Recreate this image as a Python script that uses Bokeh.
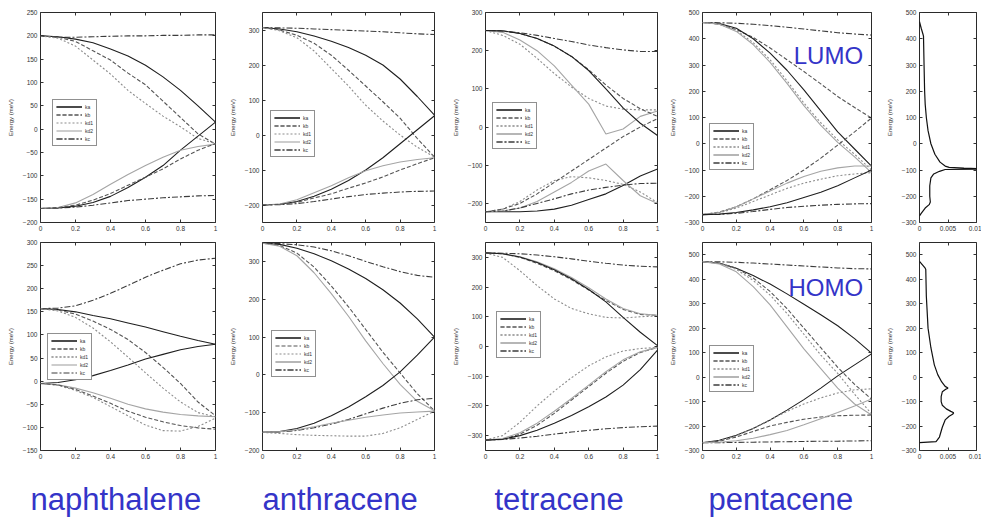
from bokeh.plotting import figure
from bokeh.models import (Range1d, FixedTicker, LinearAxis, Legend, LegendItem, Label,
                          CustomLabelingPolicy)
from bokeh.layouts import column, row
from bokeh.embed import file_html
from bokeh.resources import INLINE

# ---------------- data ----------------
k_path = [0.0, 0.1, 0.2, 0.3, 0.4, 0.5, 0.6, 0.7, 0.8, 0.9, 1.0]
k_tick_vals = [0, 0.2, 0.4, 0.6, 0.8, 1]
k_tick_labels = ["0", "0.2", "0.4", "0.6", "0.8", "1"]
dos_tick_vals = [0, 0.005, 0.01]
dos_tick_labels = ["0", "0.005", "0.01"]
legend_keys = ["a", "b", "d1", "d2", "c"]
legend_labels = ["ka", "kb", "kd1", "kd2", "kc"]
molecules = ["naphthalene", "anthracene", "tetracene", "pentacene"]

naphthalene_lumo = [
    ("c", [200, 197, 197, 198, 199, 200, 200, 201, 201, 202, 202]),
    ("a", [200, 198, 193, 185, 172, 157, 137, 112, 83, 50, 15]),
    ("b", [200, 197, 188, 168, 148, 120, 95, 60, 25, -10, -32]),
    ("d1", [200, 195, 178, 148, 118, 83, 55, 28, 5, -20, -31]),
    ("c", [-170, -169, -167, -163, -158, -153, -150, -147, -145, -143, -142]),
    ("a", [-170, -169, -165, -157, -144, -125, -103, -78, -45, -15, 15]),
    ("d2", [-170, -168, -158, -140, -118, -97, -78, -60, -45, -37, -32]),
    ("b", [-170, -168, -163, -152, -138, -120, -103, -85, -64, -45, -31]),
]
anthracene_lumo = [
    ("c", [307, 306, 305, 303, 301, 299, 297, 295, 292, 289, 287]),
    ("a", [307, 303, 295, 283, 268, 250, 228, 200, 160, 110, 57]),
    ("b", [307, 300, 285, 262, 228, 185, 140, 95, 48, -10, -63]),
    ("d1", [307, 298, 278, 240, 190, 140, 85, 40, 0, -35, -63]),
    ("c", [-200, -199, -196, -190, -183, -176, -170, -166, -163, -161, -160]),
    ("a", [-200, -198, -190, -175, -155, -130, -100, -65, -25, 15, 55]),
    ("d2", [-200, -197, -185, -165, -145, -122, -102, -88, -77, -70, -65]),
    ("b", [-200, -198, -192, -180, -168, -152, -137, -120, -100, -82, -65]),
]
tetracene_lumo = [
    ("c", [253, 251, 247, 240, 232, 224, 215, 208, 202, 198, 198]),
    ("d1", [253, 240, 217, 180, 140, 105, 75, 55, 47, 45, 45]),
    ("d2", [253, 248, 228, 200, 160, 110, 60, -18, -5, 28, 42]),
    ("b", [253, 252, 245, 232, 212, 185, 150, 110, 75, 48, 28]),
    ("a", [253, 252, 245, 232, 212, 185, 148, 100, 50, 10, -22]),
    ("a", [-222, -222, -222, -220, -215, -205, -190, -175, -153, -128, -110]),
    ("d1", [-222, -215, -195, -165, -140, -130, -133, -140, -150, -170, -198]),
    ("d2", [-222, -220, -212, -195, -170, -145, -115, -97, -140, -180, -200]),
    ("c", [-222, -220, -212, -200, -188, -175, -165, -158, -152, -148, -147]),
    ("b", [-222, -215, -200, -175, -145, -115, -85, -55, -25, 0, 22]),
]
pentacene_lumo = [
    ("c", [462, 461, 459, 455, 450, 444, 437, 430, 423, 418, 414]),
    ("b", [462, 455, 435, 405, 365, 320, 275, 228, 180, 138, 98]),
    ("a", [462, 458, 440, 400, 345, 280, 205, 125, 45, -20, -85]),
    ("d1", [462, 456, 432, 385, 320, 240, 155, 80, 15, -40, -100]),
    ("d2", [462, 455, 428, 378, 310, 230, 145, 70, 5, -50, -110]),
    ("c", [-270, -269, -265, -258, -250, -243, -238, -234, -231, -229, -228]),
    ("b", [-270, -260, -240, -210, -175, -140, -100, -55, -5, 45, 98]),
    ("d2", [-270, -262, -240, -210, -180, -150, -125, -105, -92, -85, -85]),
    ("d1", [-270, -263, -245, -220, -195, -170, -150, -135, -122, -115, -110]),
    ("a", [-270, -268, -262, -252, -240, -225, -205, -185, -160, -130, -100]),
]
naphthalene_homo = [
    ("c", [157, 158, 163, 175, 190, 207, 225, 240, 254, 262, 266]),
    ("a", [157, 155, 150, 142, 135, 126, 117, 107, 97, 88, 80]),
    ("b", [157, 154, 145, 130, 112, 90, 62, 30, -5, -45, -75]),
    ("d1", [157, 152, 138, 115, 85, 52, 18, -15, -45, -68, -77]),
    ("a", [-5, -3, 3, 12, 23, 35, 48, 58, 68, 75, 80]),
    ("d2", [-5, -8, -15, -25, -37, -50, -60, -67, -72, -75, -77]),
    ("d1", [-5, -9, -20, -35, -55, -75, -95, -107, -108, -98, -80]),
    ("b", [-5, -8, -18, -32, -48, -65, -78, -88, -96, -101, -104]),
]
anthracene_homo = [
    ("c", [348, 347, 344, 338, 328, 315, 300, 286, 273, 263, 258]),
    ("a", [348, 345, 335, 320, 302, 280, 255, 225, 190, 148, 100]),
    ("b", [348, 342, 322, 285, 235, 180, 120, 60, 5, -50, -95]),
    ("d2", [348, 340, 315, 270, 215, 155, 90, 30, -25, -70, -95]),
    ("a", [-152, -150, -142, -128, -108, -85, -58, -28, 8, 52, 100]),
    ("c", [-152, -151, -147, -140, -130, -118, -103, -88, -75, -66, -62]),
    ("d2", [-152, -150, -145, -137, -128, -120, -112, -106, -101, -98, -96]),
    ("d1", [-152, -155, -158, -160, -161, -162, -162, -155, -140, -118, -96]),
]
tetracene_homo = [
    ("c", [315, 314, 312, 308, 302, 295, 287, 280, 274, 270, 268]),
    ("d1", [315, 300, 255, 205, 160, 128, 110, 98, 96, 100, 103]),
    ("b", [315, 312, 300, 280, 255, 225, 190, 155, 125, 108, 105]),
    ("d2", [315, 312, 302, 285, 262, 232, 198, 160, 128, 110, 105]),
    ("a", [315, 312, 301, 283, 258, 228, 192, 150, 98, 48, 3]),
    ("c", [-315, -313, -308, -302, -295, -288, -282, -277, -273, -270, -268]),
    ("d1", [-315, -300, -255, -200, -150, -105, -65, -35, -15, -7, -3]),
    ("b", [-315, -312, -295, -265, -225, -180, -135, -90, -50, -20, -3]),
    ("d2", [-315, -310, -290, -258, -218, -175, -130, -85, -45, -18, -3]),
    ("a", [-315, -312, -300, -282, -258, -232, -203, -170, -130, -78, -12]),
]
pentacene_homo = [
    ("c", [472, 471, 469, 466, 462, 458, 454, 450, 446, 443, 442]),
    ("a", [472, 465, 445, 415, 380, 340, 298, 255, 210, 157, 98]),
    ("b", [472, 466, 445, 405, 350, 280, 200, 120, 40, -30, -90]),
    ("d1", [472, 465, 440, 395, 335, 260, 175, 90, 15, -70, -150]),
    ("d2", [472, 462, 430, 370, 295, 205, 115, 35, -45, -110, -155]),
    ("c", [-268, -268, -267, -266, -265, -264, -263, -262, -262, -261, -260]),
    ("a", [-268, -258, -238, -210, -175, -135, -92, -45, 5, 50, 95]),
    ("d1", [-268, -260, -240, -210, -175, -140, -110, -85, -65, -52, -48]),
    ("b", [-268, -262, -245, -222, -200, -185, -172, -163, -158, -156, -155]),
    ("d2", [-268, -266, -260, -250, -235, -218, -195, -170, -145, -118, -90]),
]

dos_lumo_energy = [465, 440, 418, 410, 300, 200, 150, 100, 50, 0, -40, -70, -85, -90, -93,
                   -96, -98, -105, -115, -130, -160, -200, -222, -232, -245, -265, -275]
dos_lumo_density = [0, 0.0003, 0.0006, 0.0007, 0.0008, 0.0009, 0.001, 0.0012, 0.0015, 0.002,
                    0.0027, 0.0036, 0.0045, 0.0052, 0.0078, 0.012, 0.0045, 0.0035, 0.0025,
                    0.002, 0.0018, 0.0018, 0.0019, 0.0017, 0.001, 0.0003, 0]
dos_homo_energy = [473, 445, 440, 330, 200, 120, 50, 10, -20, -38, -45, -50, -60, -80, -100,
                   -115, -130, -140, -146, -152, -160, -175, -205, -245, -258, -264, -268]
dos_homo_density = [0, 0.001, 0.0011, 0.0012, 0.0015, 0.002, 0.0026, 0.0032, 0.0039, 0.0045,
                    0.005, 0.0046, 0.004, 0.0038, 0.0038, 0.004, 0.0047, 0.0055, 0.006, 0.0058,
                    0.0052, 0.0045, 0.004, 0.0035, 0.0031, 0.0029, 0]

# ---------------- styles ----------------
FONT = "Liberation Sans"
BLUE = "#3434C8"
STYLE = {
    "a": dict(line_color="#1e1e1e", line_dash="solid"),
    "b": dict(line_color="#555555", line_dash="4 2"),
    "d1": dict(line_color="#8c8c8c", line_dash="2 2"),
    "d2": dict(line_color="#a5a5a5", line_dash="solid"),
    "c": dict(line_color="#3c3c3c", line_dash="6 2 2 2"),
}

COLS = [  # (width, border_left, border_right)
    (226, 40, 11), (223, 33, 15), (217, 33, 9), (217, 31, 12), (98, 30, 4)]
ROWS = [  # (height, border_top, border_bottom)
    (236, 12, 14), (230, 6, 16)]

HIDE_LABELS = "for (const i of indices) { indices.unset(i) }\nreturn indices"


def make_panel(col, rw, x_end, y_lim, y_ticks, x_ticks, x_labels):
    w, bl, br = COLS[col]
    h, bt, bb = ROWS[rw]
    p = figure(width=w, height=h, x_range=Range1d(0, x_end), y_range=Range1d(*y_lim),
               output_backend="svg", toolbar_location=None,
               min_border_left=bl, min_border_right=br, min_border_top=bt,
               min_border_bottom=bb)
    p.grid.visible = False
    p.outline_line_color = "#2a2a2a"
    p.outline_line_width = 1
    p.xaxis.ticker = FixedTicker(ticks=x_ticks)
    p.yaxis.ticker = FixedTicker(ticks=y_ticks)
    p.xaxis.major_label_overrides = dict(zip(x_ticks, x_labels))
    top = LinearAxis(ticker=FixedTicker(ticks=x_ticks))
    right = LinearAxis(ticker=FixedTicker(ticks=y_ticks))
    p.add_layout(top, "above")
    p.add_layout(right, "right")
    for ax in p.axis:
        ax.axis_line_color = None
        ax.major_tick_in = 3
        ax.major_tick_out = 0
        ax.minor_tick_line_color = None
        ax.major_tick_line_color = "#333333"
        ax.major_label_text_font = FONT
        ax.major_label_text_font_size = "6.5px"
        ax.major_label_text_color = "#333333"
        ax.major_label_standoff = 3
    for ax in (top, right):
        ax.major_label_text_font_size = "1px"
        ax.major_label_standoff = 0
        ax.major_label_policy = CustomLabelingPolicy(code=HIDE_LABELS)
    p.yaxis[0].axis_label = "Energy (meV)"
    p.yaxis[0].axis_label_text_font = FONT
    p.yaxis[0].axis_label_text_font_size = "6px"
    p.yaxis[0].axis_label_text_font_style = "normal"
    p.yaxis[0].axis_label_text_color = "#333333"
    p.yaxis[0].axis_label_standoff = 6
    return p


def band_panel(col, rw, curves, y_lim, y_ticks, legend_xy):
    p = make_panel(col, rw, 1, y_lim, y_ticks, k_tick_vals, k_tick_labels)
    rends = {k: [] for k in legend_keys}
    for key, vals in curves:
        r = p.line(k_path, vals, line_width=1.1, **STYLE[key])
        rends[key].append(r)
    items = [LegendItem(label=lab, renderers=rends[k])
             for k, lab in zip(legend_keys, legend_labels) if rends[k]]
    leg = Legend(items=items, location=legend_xy, border_line_color="#222222",
                 border_line_width=1.5, background_fill_color="white",
                 background_fill_alpha=1, label_text_font=FONT,
                 label_text_font_size="5px", label_text_color="#333333",
                 glyph_width=26, glyph_height=7, label_height=7, label_width=8,
                 label_standoff=3, spacing=1, padding=3, margin=0)
    p.add_layout(leg)
    return p


def dos_panel(rw, energy, density, y_lim, y_ticks):
    p = make_panel(4, rw, 0.01, y_lim, y_ticks, dos_tick_vals, dos_tick_labels)
    p.line(density, energy, line_color="#111111", line_width=1.2)
    return p


t1 = band_panel(0, 0, naphthalene_lumo, (-200, 250), list(range(-200, 251, 50)), (12, 76))
t2 = band_panel(1, 0, anthracene_lumo, (-250, 350), list(range(-200, 301, 100)), (8, 65))
t3 = band_panel(2, 0, tetracene_lumo, (-250, 300), list(range(-200, 301, 100)), (7, 73))
t4 = band_panel(3, 0, pentacene_lumo, (-300, 500), list(range(-300, 501, 100)), (7, 52))
t5 = dos_panel(0, dos_lumo_energy, dos_lumo_density, (-300, 500), list(range(-300, 501, 100)))

b1 = band_panel(0, 1, naphthalene_homo, (-150, 300), list(range(-150, 301, 50)), (7, 70))
b2 = band_panel(1, 1, anthracene_homo, (-200, 350), list(range(-200, 301, 100)), (9, 73))
b3 = band_panel(2, 1, tetracene_homo, (-350, 350), list(range(-300, 301, 100)), (11, 92))
b4 = band_panel(3, 1, pentacene_homo, (-300, 550), list(range(-300, 501, 100)), (7, 58))
b5 = dos_panel(1, dos_homo_energy, dos_homo_density, (-300, 550), list(range(-300, 501, 100)))

t4.add_layout(Label(x=0.95, y=336, text="LUMO", text_align="right",
                    text_baseline="alphabetic", text_font=FONT,
                    text_font_size="24px", text_color=BLUE))
b4.add_layout(Label(x=0.95, y=366, text="HOMO", text_align="right",
                    text_baseline="alphabetic", text_font=FONT,
                    text_font_size="24px", text_color=BLUE))

# molecule names strip
name_x = [30, 262, 494, 708]
strip = figure(width=981, height=53, x_range=Range1d(0, 981), y_range=Range1d(0, 53),
               output_backend="svg", toolbar_location=None, x_axis_type=None,
               y_axis_type=None, min_border=0)
strip.grid.visible = False
strip.outline_line_color = None
for nx, name in zip(name_x, molecules):
    strip.add_layout(Label(x=nx, y=20, text=name, text_align="left",
                           text_baseline="alphabetic", text_font=FONT,
                           text_font_size="31px", text_color=BLUE))

layout = column(row(t1, t2, t3, t4, t5), row(b1, b2, b3, b4, b5), strip)
open("out.html", "w").write(file_html(layout, INLINE))
